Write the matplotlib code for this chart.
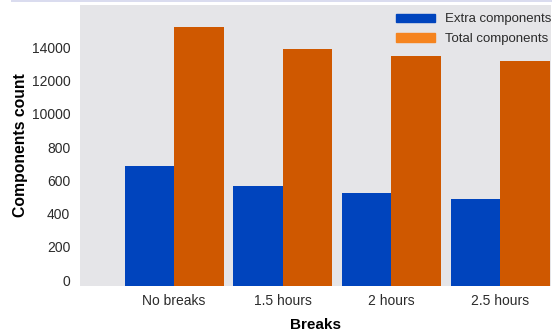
import numpy as np
import matplotlib
matplotlib.use("Agg")
import matplotlib.pyplot as plt
from matplotlib.patches import Rectangle

# ---------- data ----------
breaks = ["No breaks", "1.5 hours", "2 hours", "2.5 hours"]
extra_components = [719, 599, 557, 521]
total_components = [15540, 14220, 13800, 13500]
ytick_values = [0, 200, 400, 600, 800, 10000, 12000, 14000]

plt.rcParams["font.family"] = ["Liberation Sans", "DejaVu Sans"]

BLUE = "#0044bd"
ORANGE = "#cf5800"
LEGEND_ORANGE = "#f5841f"
BG = "#e5e5e8"


# broken y axis: 0-800 in steps of 200, then 10000+ in steps of 2000
def fwd(v):
    v = np.asarray(v, dtype=float)
    return np.where(v <= 800, v / 200.0,
                    np.where(v < 10000, 4 + (v - 800) / 9200.0,
                             5 + (v - 10000) / 2000.0))


def inv(t):
    t = np.asarray(t, dtype=float)
    return np.where(t <= 4, t * 200.0,
                    np.where(t < 5, 800 + (t - 4) * 9200.0,
                             10000 + (t - 5) * 2000.0))


# ---------- plot ----------
fig = plt.figure(figsize=(5.52, 3.34), dpi=100)
ax = fig.add_axes([80 / 552, 48.3 / 334, 471 / 552, 280.7 / 334])
ax.set_facecolor(BG)
ax.set_yscale("function", functions=(fwd, inv))

x = np.arange(len(breaks))
w = 0.4555
ax.bar(x - w / 2, extra_components, w, color=BLUE, linewidth=0)
ax.bar(x + w / 2, total_components, w, color=ORANGE, linewidth=0)

ax.set_xlim(-0.865, 3.469)
ax.set_ylim(0, 16860)
ax.set_yticks(ytick_values)
ax.set_yticklabels([str(v) for v in ytick_values])
ax.yaxis.set_minor_locator(matplotlib.ticker.NullLocator())
ax.set_xticks(x)
ax.set_xticklabels(breaks)
for lbl in ax.get_yticklabels():
    lbl.set_verticalalignment("baseline")
ax.tick_params(axis="both", length=0, labelsize=10, labelcolor="#2b2b2b")
ax.tick_params(axis="y", pad=7)
ax.tick_params(axis="x", pad=6)
for s in ax.spines.values():
    s.set_visible(False)

ax.set_ylabel("Components count", fontsize=11.3, fontweight="bold", labelpad=2.5)
ax.set_xlabel("Breaks", fontsize=11, fontweight="bold", labelpad=7)

handles = [Rectangle((0, 0), 1, 1, color=BLUE),
           Rectangle((0, 0), 1, 1, color=LEGEND_ORANGE)]
ax.legend(handles, ["Extra components", "Total components"],
          loc="upper right", bbox_to_anchor=(1.0, 0.97), frameon=False,
          fontsize=9.5, handlelength=3.0, handleheight=0.6,
          handletextpad=0.7, labelspacing=0.6, borderpad=0,
          borderaxespad=0, labelcolor="#2b2b2b")

# thin band along the top edge
fig.patches.append(Rectangle((11 / 552, 332 / 334), 541 / 552, 2 / 334,
                             transform=fig.transFigure, color="#dadcef",
                             linewidth=0))

fig.savefig("out.png", dpi=100)
